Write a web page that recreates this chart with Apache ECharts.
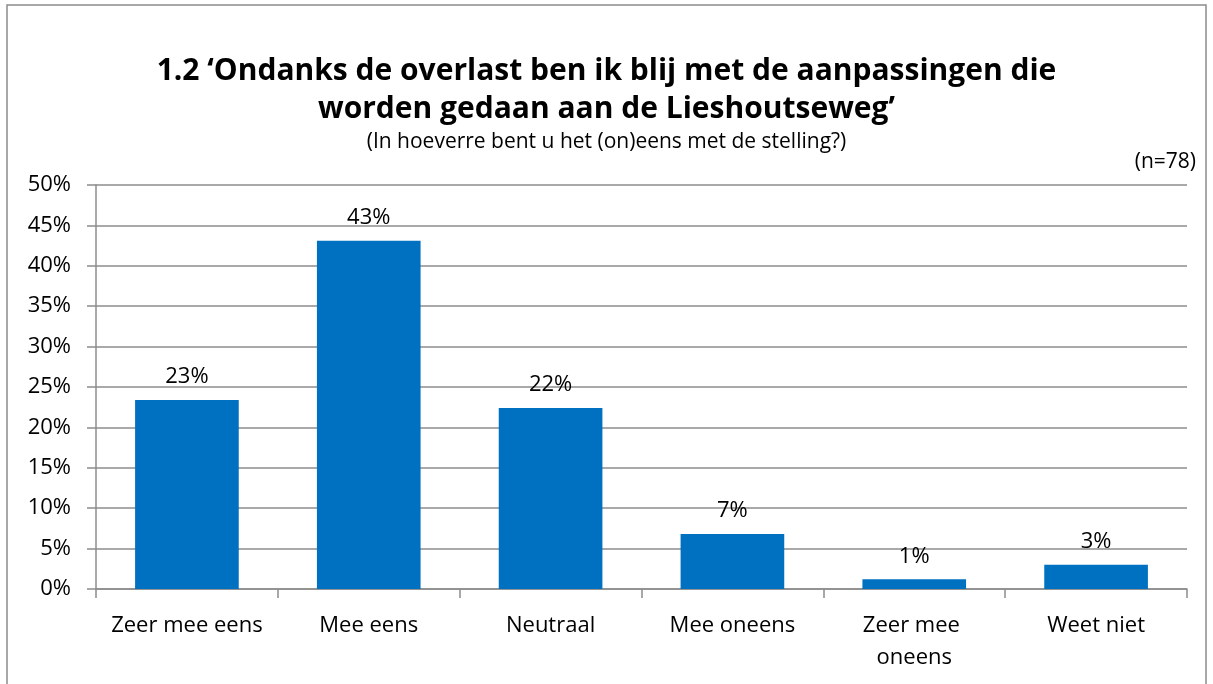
<!DOCTYPE html>
<html>
<head>
<meta charset="utf-8">
<script src="https://cdn.jsdelivr.net/npm/echarts@6/dist/echarts.min.js"></script>
<style>
    html, body { margin: 0; padding: 0; background: #fff; }
    #chart { width: 1213px; height: 684px; }
</style>
</head>
<body>
<div id="chart"></div>
<script>
// waarden uit de grafiek (percentages)
var categories = ['Zeer mee eens', 'Mee eens', 'Neutraal', 'Mee oneens', 'Zeer mee oneens', 'Weet niet']
var values = [23.4, 43.1, 22.4, 6.8, 1.2, 3.0]
var labels = ['23%', '43%', '22%', '7%', '1%', '3%']

var font = '"Open Sans", sans-serif'
var gridColor = '#8c8c8c'

var myChart = echarts.init(document.getElementById('chart'))
var option = {
    animation: false,
    textStyle: { fontFamily: font },
    title: [
        {
            text: '1.2 \u2018Ondanks de overlast ben ik blij met de aanpassingen die\nworden gedaan aan de Lieshoutseweg\u2019',
            left: 'center',
            top: 47,
            textStyle: {
                fontFamily: font,
                fontSize: 30,
                fontWeight: 'bold',
                color: '#000',
                lineHeight: 38,
                align: 'center'
            }
        },
        {
            text: '(In hoeverre bent u het (on)eens met de stelling?)',
            left: 'center',
            top: 127,
            textStyle: { fontFamily: font, fontSize: 21, fontWeight: 'normal', color: '#000' }
        },
        {
            text: '(n=78)',
            right: 12,
            top: 147,
            textStyle: { fontFamily: font, fontSize: 21, fontWeight: 'normal', color: '#000' }
        }
    ],
    graphic: [
        {
            type: 'rect',
            shape: { x: 7, y: 5, width: 1199, height: 690 },
            style: { fill: 'none', stroke: '#8c8c8c', lineWidth: 1.5 },
            silent: true
        }
    ],
    grid: {
        left: 96,
        right: 26,
        top: 185,
        bottom: 95
    },
    xAxis: {
        type: 'category',
        data: categories,
        axisLine: { lineStyle: { color: gridColor, width: 1.5 } },
        axisTick: { show: true, length: 9, lineStyle: { color: gridColor, width: 1.5 } },
        axisLabel: {
            color: '#000',
            fontSize: 22,
            fontFamily: font,
            margin: 21,
            interval: 0,
            lineHeight: 32,
            width: 170,
            overflow: 'break'
        }
    },
    yAxis: {
        type: 'value',
        min: 0,
        max: 50,
        interval: 5,
        axisLine: { show: true, lineStyle: { color: gridColor, width: 1.5 } },
        axisTick: { show: true, length: 9, lineStyle: { color: gridColor, width: 1.5 } },
        axisLabel: {
            formatter: '{value}%',
            color: '#000',
            fontSize: 22,
            fontFamily: font,
            margin: 25
        },
        splitLine: { lineStyle: { color: gridColor, width: 1.5 } }
    },
    series: [
        {
            type: 'bar',
            data: values,
            barWidth: '57%',
            itemStyle: { color: '#0070C0' },
            label: {
                show: true,
                position: 'top',
                distance: 12,
                color: '#000',
                fontSize: 22,
                fontFamily: font,
                formatter: function (p) { return labels[p.dataIndex] }
            }
        }
    ]
}
myChart.setOption(option)
</script>
</body>
</html>
